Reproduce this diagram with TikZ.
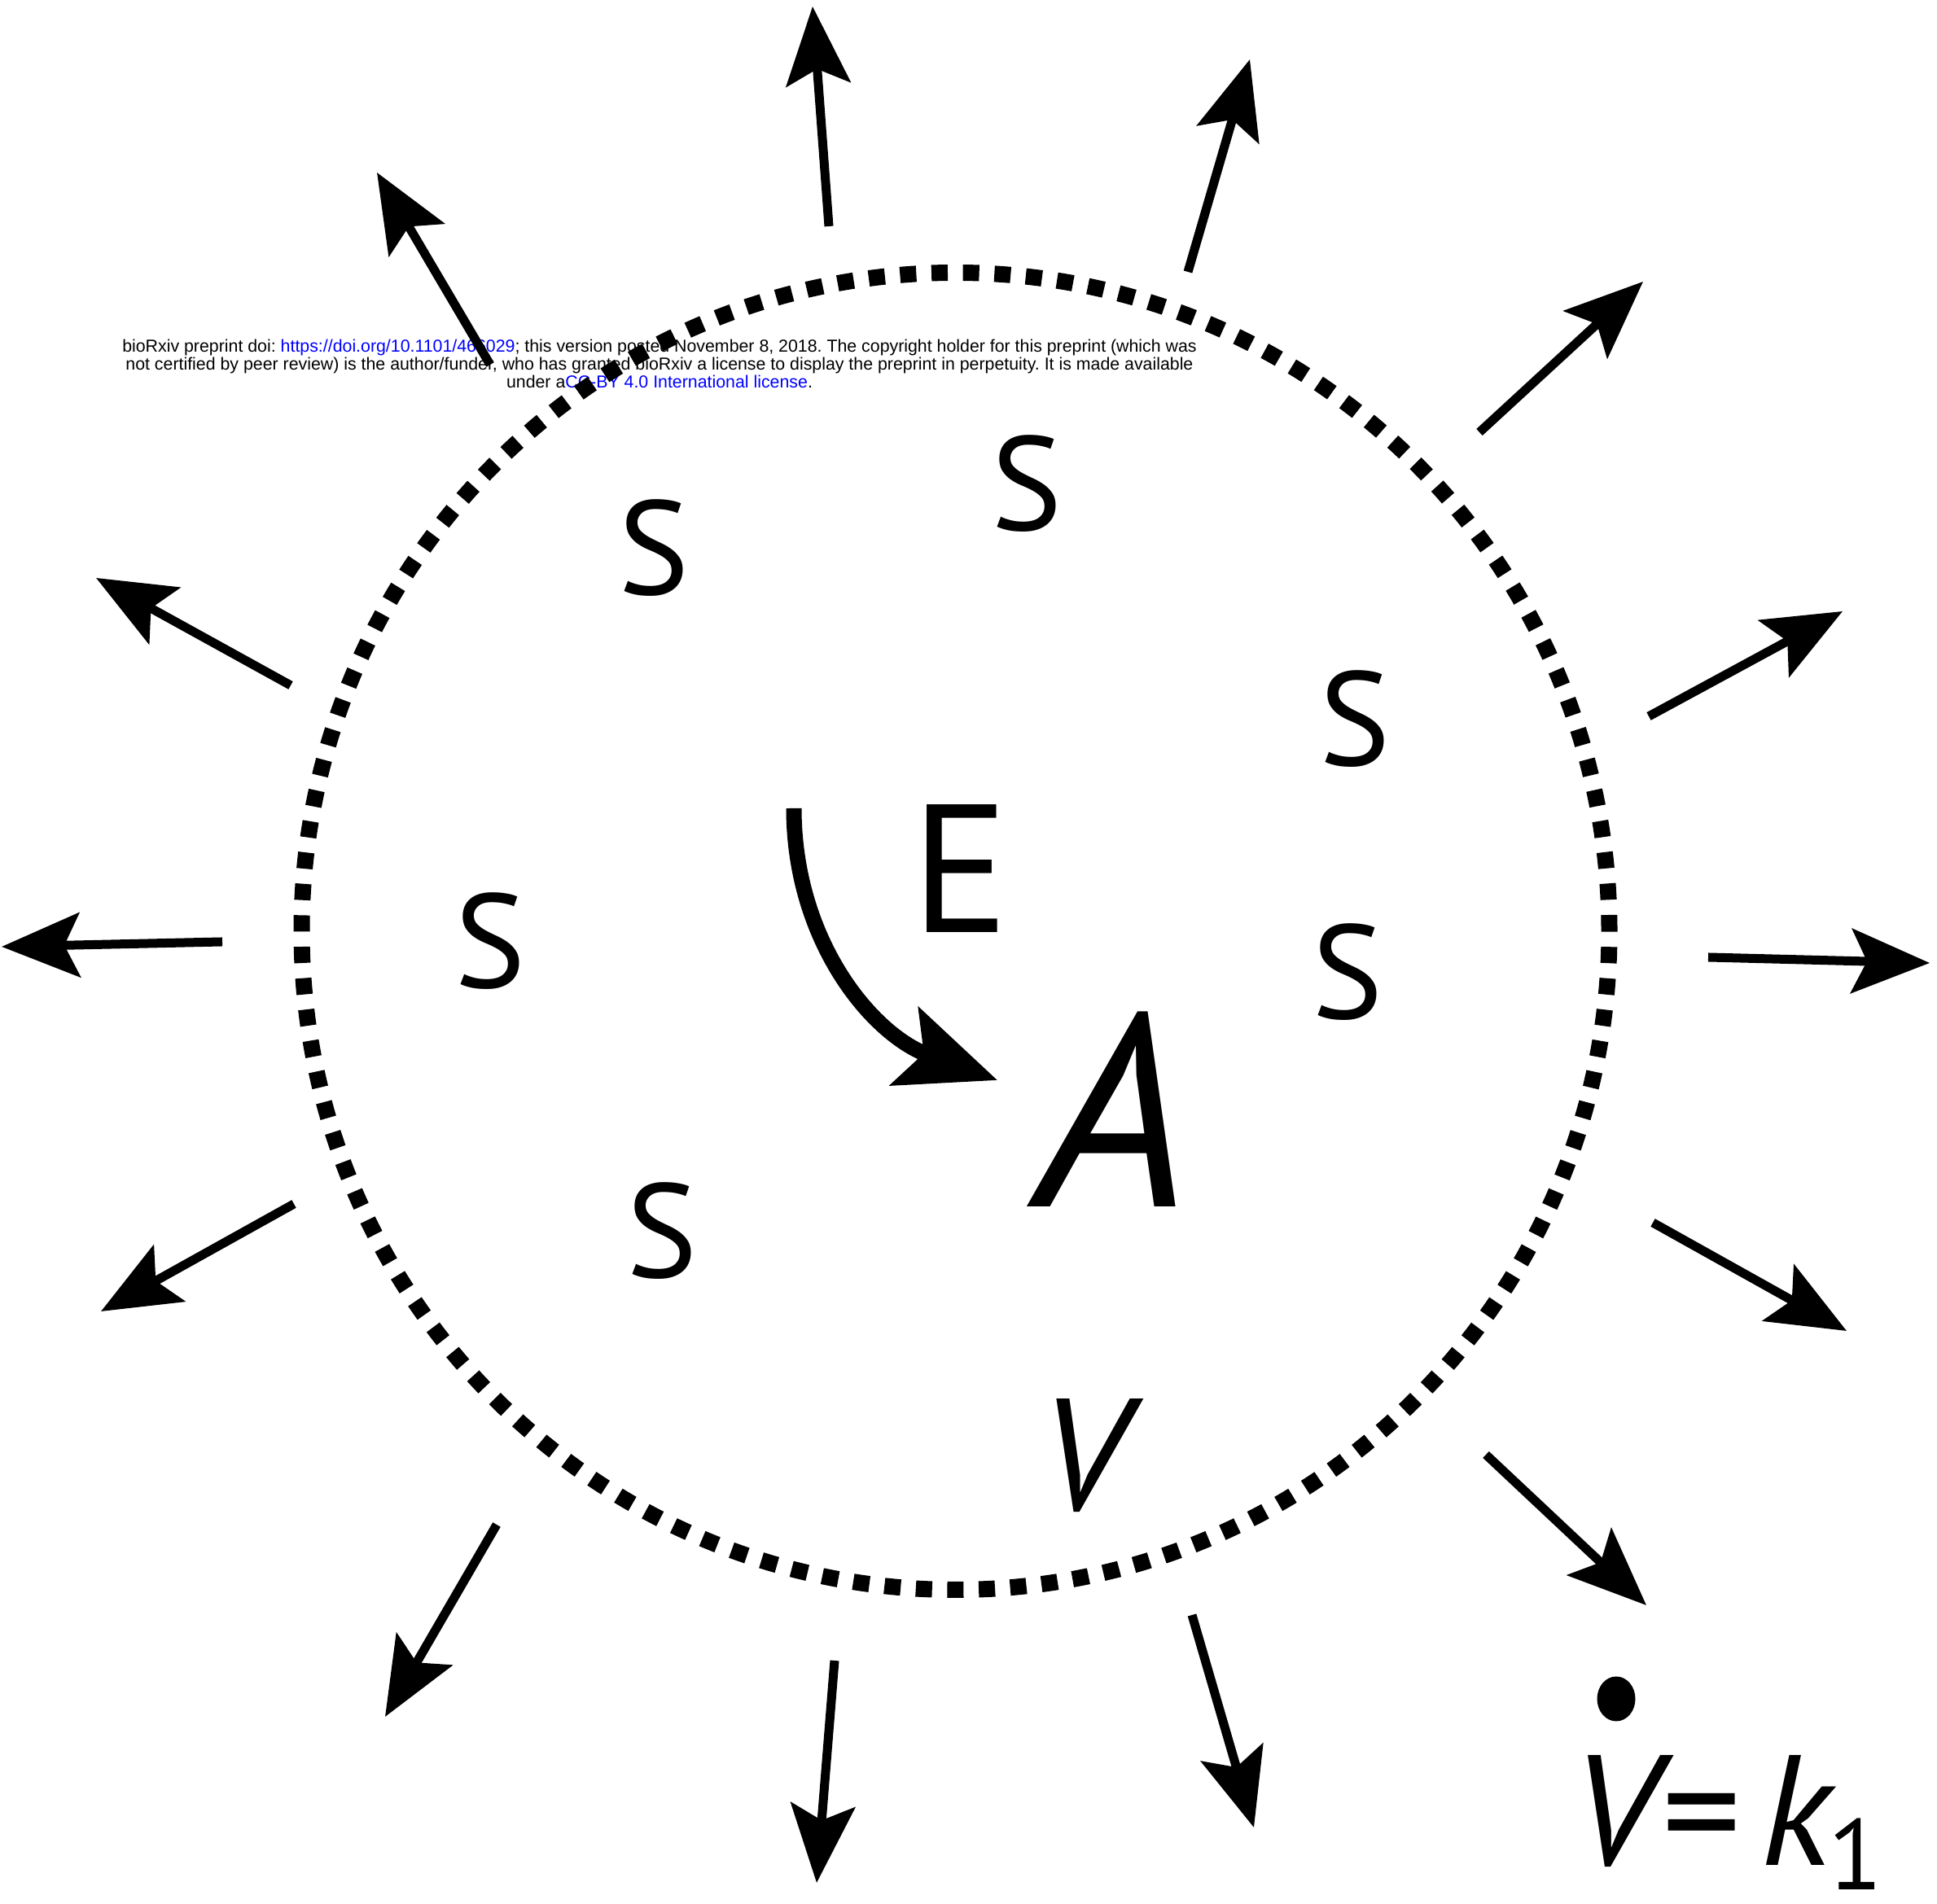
\documentclass[tikz,border=0pt]{standalone}
\usepackage{fontspec}
\setmainfont{PT Sans}
\newfontfamily\notefont{Liberation Sans}
\usepackage{xcolor}
\usetikzlibrary{arrows.meta}
\definecolor{linkblue}{RGB}{0, 0, 255}
\frenchspacing

\begin{document}
\begin{tikzpicture}[
    outarrow/.style={line width=0.11cm, -{Stealth[length=0.96cm, width=0.79cm, inset=0.19cm]}},
    letter/.style={inner sep=0.1cm, anchor=base, font=\fontsize{#1}{#1}\selectfont},
    letter/.default=46.7
]
    \useasboundingbox (0,0) rectangle (23.79,23.39);

    % preprint note, lies under the drawing
    \node[font=\notefont\fontsize{6.07}{6.3}\selectfont, align=center, inner sep=0pt] (note) at (8.10,18.92)
        {bioRxiv preprint doi: \textcolor{linkblue}{https://doi.org/10.1101/466029}; this version posted November 8, 2018. The copyright holder for this preprint (which was\\
         not certified by peer review) is the author/funder, who has granted bioRxiv a license to display the preprint in perpetuity. It is made available\\
         under a\textcolor{linkblue}{CC-BY 4.0 International license}.};

    % membrane
    \draw[line width=0.2cm, dash pattern=on 0.2cm off 0.1866cm] (11.735,11.95) ellipse [x radius=8.03cm, y radius=8.09cm];

    % outflow arrows
    \foreach \tx/\ty/\hx/\hy in {6.02/18.91/4.63/21.27, 10.18/20.61/9.98/23.31, 14.59/20.05/15.35/22.66,
        18.17/18.08/20.18/19.93, 20.25/14.59/22.63/15.88, 20.98/11.63/23.70/11.56,
        20.30/8.37/22.68/7.04, 18.25/5.52/20.22/3.67, 14.64/3.55/15.40/0.94,
        10.25/2.99/10.03/0.26, 6.10/4.66/4.73/2.30, 3.61/8.60/1.24/7.28,
        2.73/11.82/0.02/11.76, 3.57/14.97/1.18/16.29}
        \draw[outarrow] (\tx,\ty) -- (\hx,\hy);

    % substrate
    \node[letter] (s1) at (8.03,16.08) {S};
    \node[letter] (s2) at (12.61,16.87) {S};
    \node[letter] (s3) at (16.64,13.98) {S};
    \node[letter] (s4) at (16.55,10.87) {S};
    \node[letter] (s5) at (6.02,11.25) {S};
    \node[letter] (s6) at (8.13,7.69) {S};

    % enzyme, product, volume
    \node[letter=63.8] (enz) at (11.80,11.93) {E};
    \node[letter=95.9] (prod) at (13.66,8.56) {\itshape A};
    \node[letter=55.7] (vol) at (13.30,4.83) {\itshape V};

    % conversion
    \coordinate (conv start) at (9.75,13.46);
    \coordinate (conv end) at (12.25,10.12);
    \draw[line width=0.19cm, -{Stealth[length=1.21cm, width=1.01cm, inset=0.25cm]}] (conv start) to[out=-90, in=160] (conv end);

    % growth law
    \fill (19.85,2.52) ellipse [x radius=0.235cm, y radius=0.275cm];
    \node[letter=54.9, anchor=base west, inner sep=0pt] (rate) at (19.30,0.47)
        {\itshape V\kern0.06cm\upshape=\kern0.24cm\itshape k\upshape\kern-0.04cm\raisebox{-0.30cm}{\fontsize{35}{35}\selectfont 1}};
\end{tikzpicture}
\end{document}
